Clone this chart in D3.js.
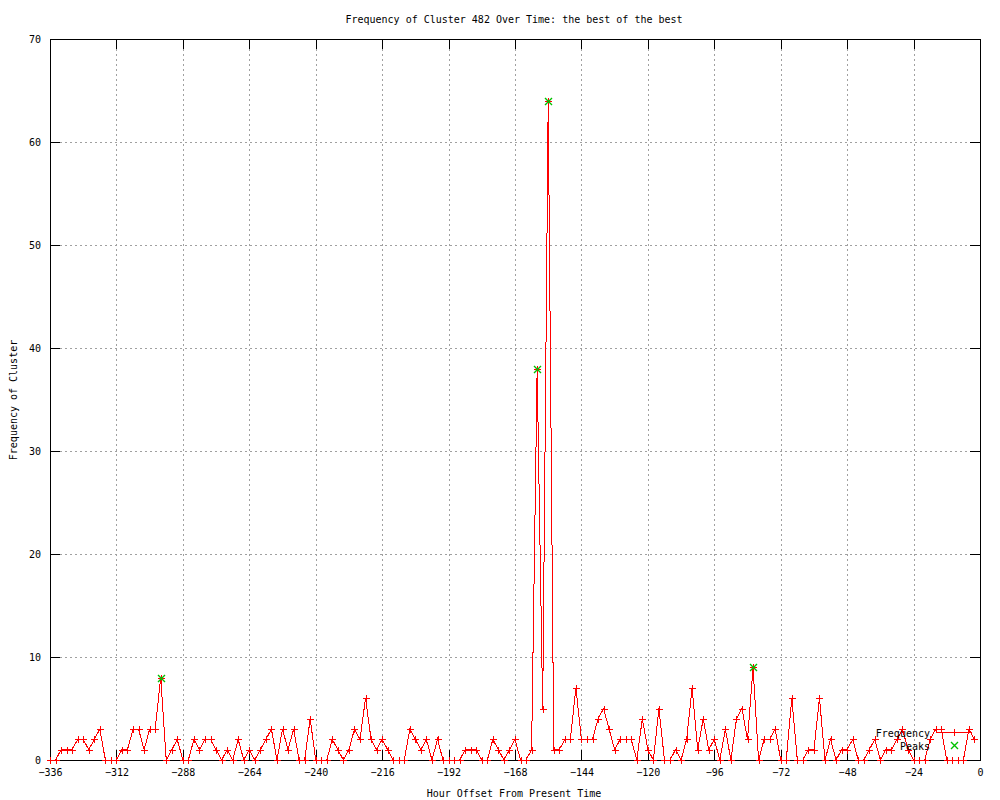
<!DOCTYPE html>
<html><head><meta charset="utf-8">
<script src="https://cdn.jsdelivr.net/npm/d3@7"></script>
<style>
body{margin:0;background:#fff;}
text{font-family:"DejaVu Sans Mono",monospace;font-size:10px;fill:#000;}
</style>
</head><body><svg id="c" width="1000" height="800"></svg>
<script>
const hours = [-336,-334,-332,-330,-328,-326,-324,-322,-320,-318,-316,-314,
-312,-310,-308,-306,-304,-302,-300,-298,-296,-294,-292,-290,
-288,-286,-284,-282,-280,-278,-276,-274,-272,-270,-268,-266,
-264,-262,-260,-258,-256,-254,-252,-250,-248,-246,-244,-242,
-240,-238,-236,-234,-232,-230,-228,-226,-224,-222,-220,-218,
-216,-214,-212,-210,-208,-206,-204,-202,-200,-198,-196,-194,
-192,-190,-188,-186,-184,-182,-180,-178,-176,-174,-172,-170,
-168,-166,-164,-162,-160,-158,-156,-154,-152,-150,-148,-146,
-144,-142,-140,-138,-136,-134,-132,-130,-128,-126,-124,-122,
-120,-118,-116,-114,-112,-110,-108,-106,-104,-102,-100,-98,
-96,-94,-92,-90,-88,-86,-84,-82,-80,-78,-76,-74,
-72,-70,-68,-66,-64,-62,-60,-58,-56,-54,-52,-50,
-48,-46,-44,-42,-40,-38,-36,-34,-32,-30,-28,-26,
-24,-22,-20,-18,-16,-14,-12,-10,-8,-6,-4,-2];
const frequency = [0,0,1,1,1,2,2,1,2,3,0,0,
0,1,1,3,3,1,3,3,8,0,1,2,
0,0,2,1,2,2,1,0,1,0,2,0,
1,0,1,2,3,0,3,1,3,0,0,4,
0,0,0,2,1,0,1,3,2,6,2,1,
2,1,0,0,0,3,2,1,2,0,2,0,
0,0,0,1,1,1,0,0,2,1,0,1,
2,0,0,1,38,5,64,1,1,2,2,7,
2,2,2,4,5,3,1,2,2,2,0,4,
1,0,5,0,0,1,0,2,7,1,4,1,
2,0,3,0,4,5,2,9,0,2,2,3,
0,0,6,0,0,1,1,6,0,2,0,1,
1,2,0,0,1,2,0,1,1,2,3,1,
0,0,0,2,3,3,0,0,0,0,3,2];
const peakHours = [-296,-160,-156,-82];
const peakValues = [8,38,64,9];
const xTicks = [-336,-312,-288,-264,-240,-216,-192,-168,-144,-120,-96,-72,-48,-24,0];
const yTicks = [0,10,20,30,40,50,60,70];
const seriesNames = ["Frequency","Peaks"];
const titleText = "Frequency of Cluster 482 Over Time: the best of the best";
const xLabel = "Hour Offset From Present Time";
const yLabel = "Frequency of Cluster";

const L=50,R=980,T=39,B=760, tick=10;
const svg=d3.select("#c");
svg.append("rect").attr("width",1000).attr("height",800).attr("fill","#fff");
const x=d3.scaleLinear().domain([-336,0]).range([L,R]);
const y=d3.scaleLinear().domain([0,70]).range([B,T]);

// grid
const grid=svg.append("g").attr("stroke","#a0a0a0").attr("stroke-dasharray","2,3").attr("shape-rendering","crispEdges");
grid.selectAll(".gx").data(xTicks.filter(d=>d>-336&&d<0)).join("line")
  .attr("x1",d=>Math.round(x(d))+0.5).attr("x2",d=>Math.round(x(d))+0.5).attr("y1",T).attr("y2",B);
grid.selectAll(".gy").data(yTicks.filter(d=>d>0&&d<70)).join("line")
  .attr("y1",d=>Math.round(y(d))+0.5).attr("y2",d=>Math.round(y(d))+0.5).attr("x1",L).attr("x2",R);

// axes
function styleAxis(g){g.select(".domain").remove();g.selectAll("line").attr("stroke","#000").attr("shape-rendering","crispEdges");g.selectAll("text").attr("font-family",null).attr("font-size",null);}
svg.append("g").attr("transform",`translate(0,${B})`)
  .call(d3.axisBottom(x).tickValues(xTicks).tickFormat(d3.format("d")).tickSizeInner(-tick).tickSizeOuter(0).tickPadding(9)).call(styleAxis);
svg.append("g").attr("transform",`translate(0,${T})`)
  .call(d3.axisTop(x).tickValues(xTicks).tickFormat("").tickSizeInner(-tick).tickSizeOuter(0)).call(styleAxis);
svg.append("g").attr("transform",`translate(${L},0)`)
  .call(d3.axisLeft(y).tickValues(yTicks).tickFormat(d3.format("d")).tickSizeInner(-tick).tickSizeOuter(0).tickPadding(9)).call(styleAxis);
svg.append("g").attr("transform",`translate(${R},0)`)
  .call(d3.axisRight(y).tickValues(yTicks).tickFormat("").tickSizeInner(-tick).tickSizeOuter(0)).call(styleAxis);

svg.append("rect").attr("x",L+0.5).attr("y",T+0.5).attr("width",R-L).attr("height",B-T)
  .attr("fill","none").attr("stroke","#000").attr("shape-rendering","crispEdges");

// data
const pts=hours.map((h,i)=>({h,v:frequency[i]}));
const red="#ff0000", green="#00c000";
svg.append("path").datum(pts).attr("fill","none").attr("stroke",red).attr("stroke-width",1)
  .attr("shape-rendering","crispEdges")
  .attr("d",d3.line().x(d=>x(d.h)).y(d=>y(d.v)));
const plus=(cx,cy)=>`M${cx-3.5},${cy}h7M${cx},${cy-3.5}v7`;
const cross=(cx,cy)=>`M${cx-3.5},${cy-3.5}L${cx+3.5},${cy+3.5}M${cx-3.5},${cy+3.5}L${cx+3.5},${cy-3.5}`;
svg.append("g").selectAll("path").data(pts).join("path")
  .attr("d",d=>plus(Math.round(x(d.h))+0.5,Math.round(y(d.v))+0.5))
  .attr("stroke",red).attr("fill","none").attr("shape-rendering","crispEdges");
const peaks=peakHours.map((h,i)=>({h,v:peakValues[i]}));
svg.append("g").selectAll("path").data(peaks).join("path")
  .attr("d",d=>cross(Math.round(x(d.h))+0.5,Math.round(y(d.v))+0.5))
  .attr("stroke",green).attr("stroke-width",1.4).attr("fill","none");

// legend
const lg=svg.append("g");
lg.append("text").attr("x",930).attr("y",733).attr("dy","0.35em").attr("text-anchor","end").text(seriesNames[0]);
lg.append("line").attr("x1",937).attr("x2",972).attr("y1",732.5).attr("y2",732.5).attr("stroke",red).attr("shape-rendering","crispEdges");
lg.append("path").attr("d",plus(954.5,732.5)).attr("stroke",red).attr("fill","none").attr("shape-rendering","crispEdges");
lg.append("text").attr("x",930).attr("y",746).attr("dy","0.35em").attr("text-anchor","end").text(seriesNames[1]);
lg.append("path").attr("d",cross(954.5,745.5)).attr("stroke",green).attr("stroke-width",1.4).attr("fill","none");

// titles
svg.append("text").attr("x",514).attr("y",19).attr("dy","0.35em").attr("text-anchor","middle").text(titleText);
svg.append("text").attr("x",514).attr("y",793).attr("dy","0.35em").attr("text-anchor","middle").text(xLabel);
svg.append("text").attr("transform","translate(13,400) rotate(-90)").attr("dy","0.35em").attr("text-anchor","middle").text(yLabel);
</script>
</body></html>
